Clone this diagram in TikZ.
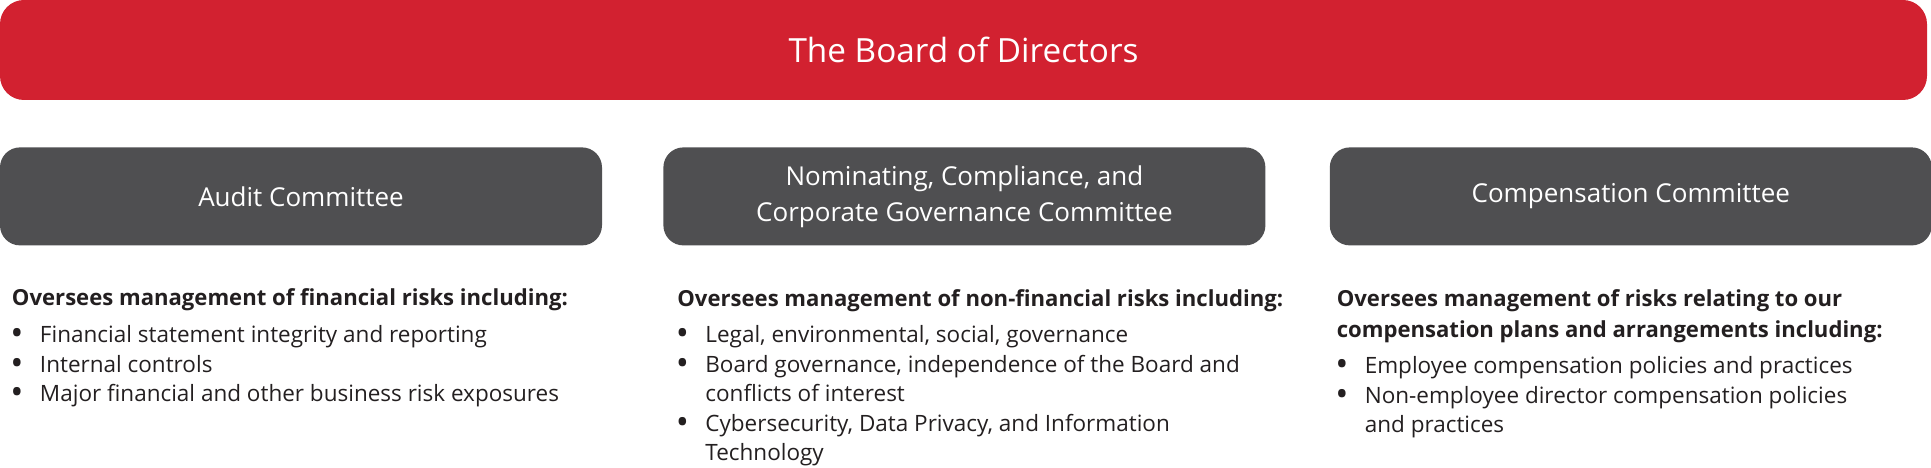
\documentclass[tikz,border=0pt]{standalone}
\usepackage{fontspec}
\setmainfont{Open Sans}
\usepackage{xcolor}
\usepackage{tikz}
\usetikzlibrary{positioning}
\definecolor{boardred}{RGB}{210,33,48}
\definecolor{cmtgray}{RGB}{79,79,81}
\definecolor{risktext}{RGB}{35,31,32}
\newcommand{\riskdot}{\makebox[28pt][l]{\fontsize{27}{29}\selectfont\bfseries\textbullet}}
\newcommand{\riskcont}{\hspace*{28pt}}
\newcommand{\riskhead}[1]{{\fontsize{22.1}{30}\selectfont\bfseries #1}}

\begin{document}
\begin{tikzpicture}[x=1pt, y=1pt]
    \tikzstyle{board}=[
        rectangle,
        rounded corners=24pt,
        fill=boardred,
        text=white,
        minimum width=1927pt, minimum height=100pt,
        inner sep=0pt,
        font=\fontsize{33.3}{40}\selectfont
    ]
    \tikzstyle{committee}=[
        rectangle,
        rounded corners=20pt,
        fill=cmtgray,
        text=white,
        minimum width=602pt, minimum height=98pt, % same for all three
        inner sep=0pt,
        align=center,
        font=\fontsize{26}{36}\selectfont
    ]
    \tikzstyle{risklist}=[
        inner sep=0pt,
        align=left,
        text=risktext,
        font=\fontsize{22.5}{29.5}\selectfont
    ]

    \useasboundingbox (0,0) rectangle (1931,468);

    \node[board] (board) at (963.5,418) {The Board of Directors};

    \node[committee, below=47pt of board.south west, anchor=north west] (audit) {Audit Committee};
    \node[committee, right=61pt of audit] (nomin) {Nominating, Compliance, and\\Corporate Governance Committee};
    \node[committee, right=64pt of nomin] (comp) {Compensation Committee};

    % lists hang from their last baseline
    \node[risklist, below=156pt of audit.south west, anchor=base west, xshift=12pt] (auditrisks) {
        \riskhead{Oversees management of financial risks including:}\\[8pt]
        \riskdot Financial statement integrity and reporting\\
        \riskdot Internal controls\\
        \riskdot Major financial and other business risk exposures};

    \node[risklist, below=215pt of nomin.south west, anchor=base west, xshift=14pt] (nominrisks) {
        \riskhead{Oversees management of non-financial risks including:}\\[7pt]
        \riskdot Legal, environmental, social, governance\\
        \riskdot Board governance, independence of the Board and\\
        \riskcont conflicts of interest\\
        \riskdot Cybersecurity, Data Privacy, and Information\\
        \riskcont Technology};

    \node[risklist, below=187pt of comp.south west, anchor=base west, xshift=7pt] (comprisks) {
        \riskhead{Oversees management of risks relating to our}\\[1pt]
        \riskhead{compensation plans and arrangements including:}\\[7pt]
        \riskdot Employee compensation policies and practices\\
        \riskdot Non-employee director compensation policies\\
        \riskcont and practices};

\end{tikzpicture}
\end{document}
